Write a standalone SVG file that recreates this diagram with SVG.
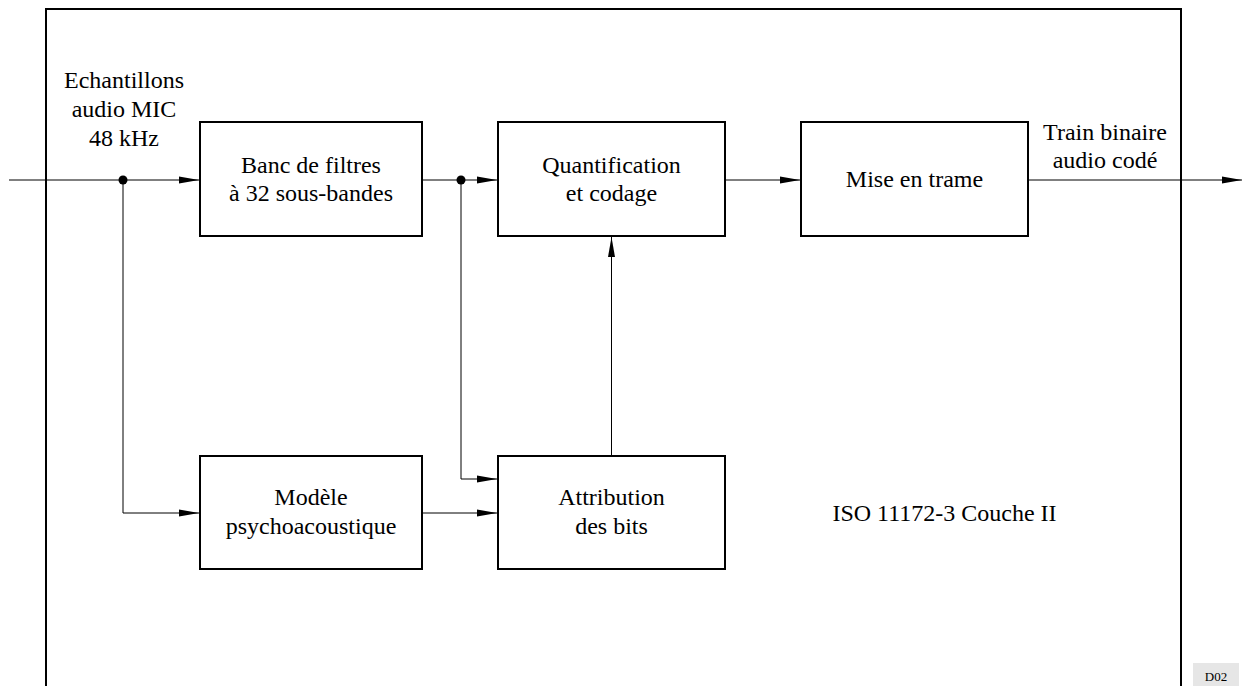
<svg xmlns="http://www.w3.org/2000/svg" width="1243" height="686" viewBox="0 0 1243 686">
<style>
.box{fill:#fff;stroke:#000;stroke-width:2}
.t{font-family:'Liberation Serif','Times New Roman','DejaVu Serif',Times,serif;font-size:24px;fill:#000;text-anchor:middle}
.c{fill:none;stroke:#000;stroke-width:1}
.dot{fill:#000}
</style>
<defs>
<marker id="ah" viewBox="0 0 20 8" refX="20" refY="4" markerWidth="20" markerHeight="8" markerUnits="userSpaceOnUse" orient="auto">
<path d="M0,0.5 L20,4 L0,7.5 Z" fill="#000"/>
</marker>
</defs>
<rect width="1243" height="686" fill="#fff"/>
<path d="M46,690 V9 H1181 V690" fill="none" stroke="#000" stroke-width="2"/>
<g id="connectors">
<line class="c" x1="9" y1="180" x2="199" y2="180" marker-end="url(#ah)"/>
<polyline class="c" points="123,180 123,513 199,513" marker-end="url(#ah)"/>
<line class="c" x1="422" y1="180" x2="497" y2="180" marker-end="url(#ah)"/>
<polyline class="c" points="461,180 461,479 497,479" marker-end="url(#ah)"/>
<line class="c" x1="422" y1="513" x2="497" y2="513" marker-end="url(#ah)"/>
<line class="c" x1="611.5" y1="456" x2="611.5" y2="237" marker-end="url(#ah)"/>
<line class="c" x1="725" y1="180" x2="800" y2="180" marker-end="url(#ah)"/>
<line class="c" x1="1028" y1="180" x2="1242" y2="180" marker-end="url(#ah)"/>
<circle class="dot" cx="123" cy="180" r="4.5"/>
<circle class="dot" cx="461" cy="180" r="4.5"/>
</g>
<g id="input-label">
<text class="t" x="124" y="88">Echantillons</text>
<text class="t" x="124" y="117">audio MIC</text>
<text class="t" x="124" y="146">48 kHz</text>
</g>
<g id="banc">
<rect class="box" x="200" y="122" width="222" height="114"/>
<text class="t" x="311" y="173">Banc de filtres</text>
<text class="t" x="311" y="201">à 32 sous-bandes</text>
</g>
<g id="quant">
<rect class="box" x="498" y="122" width="227" height="114"/>
<text class="t" x="611.5" y="173">Quantification</text>
<text class="t" x="611.5" y="201">et codage</text>
</g>
<g id="mise">
<rect class="box" x="801" y="122" width="227" height="114"/>
<text class="t" x="914.5" y="187">Mise en trame</text>
</g>
<g id="output-label">
<text class="t" x="1105" y="140">Train binaire</text>
<text class="t" x="1105" y="168">audio codé</text>
</g>
<g id="modele">
<rect class="box" x="200" y="456" width="222" height="113"/>
<text class="t" x="311" y="505">Modèle</text>
<text class="t" x="311" y="534">psychoacoustique</text>
</g>
<g id="attribution">
<rect class="box" x="498" y="456" width="227" height="113"/>
<text class="t" x="611.5" y="505">Attribution</text>
<text class="t" x="611.5" y="534">des bits</text>
</g>
<g id="iso-label">
<text class="t" x="944.5" y="521">ISO 11172-3 Couche II</text>
</g>
<g id="ref">
<rect x="1193" y="663" width="46" height="23" fill="#e6e6e6"/>
<text x="1216" y="681" font-family="'Liberation Serif', serif" font-size="13" text-anchor="middle" fill="#000">D02</text>
</g>
</svg>
